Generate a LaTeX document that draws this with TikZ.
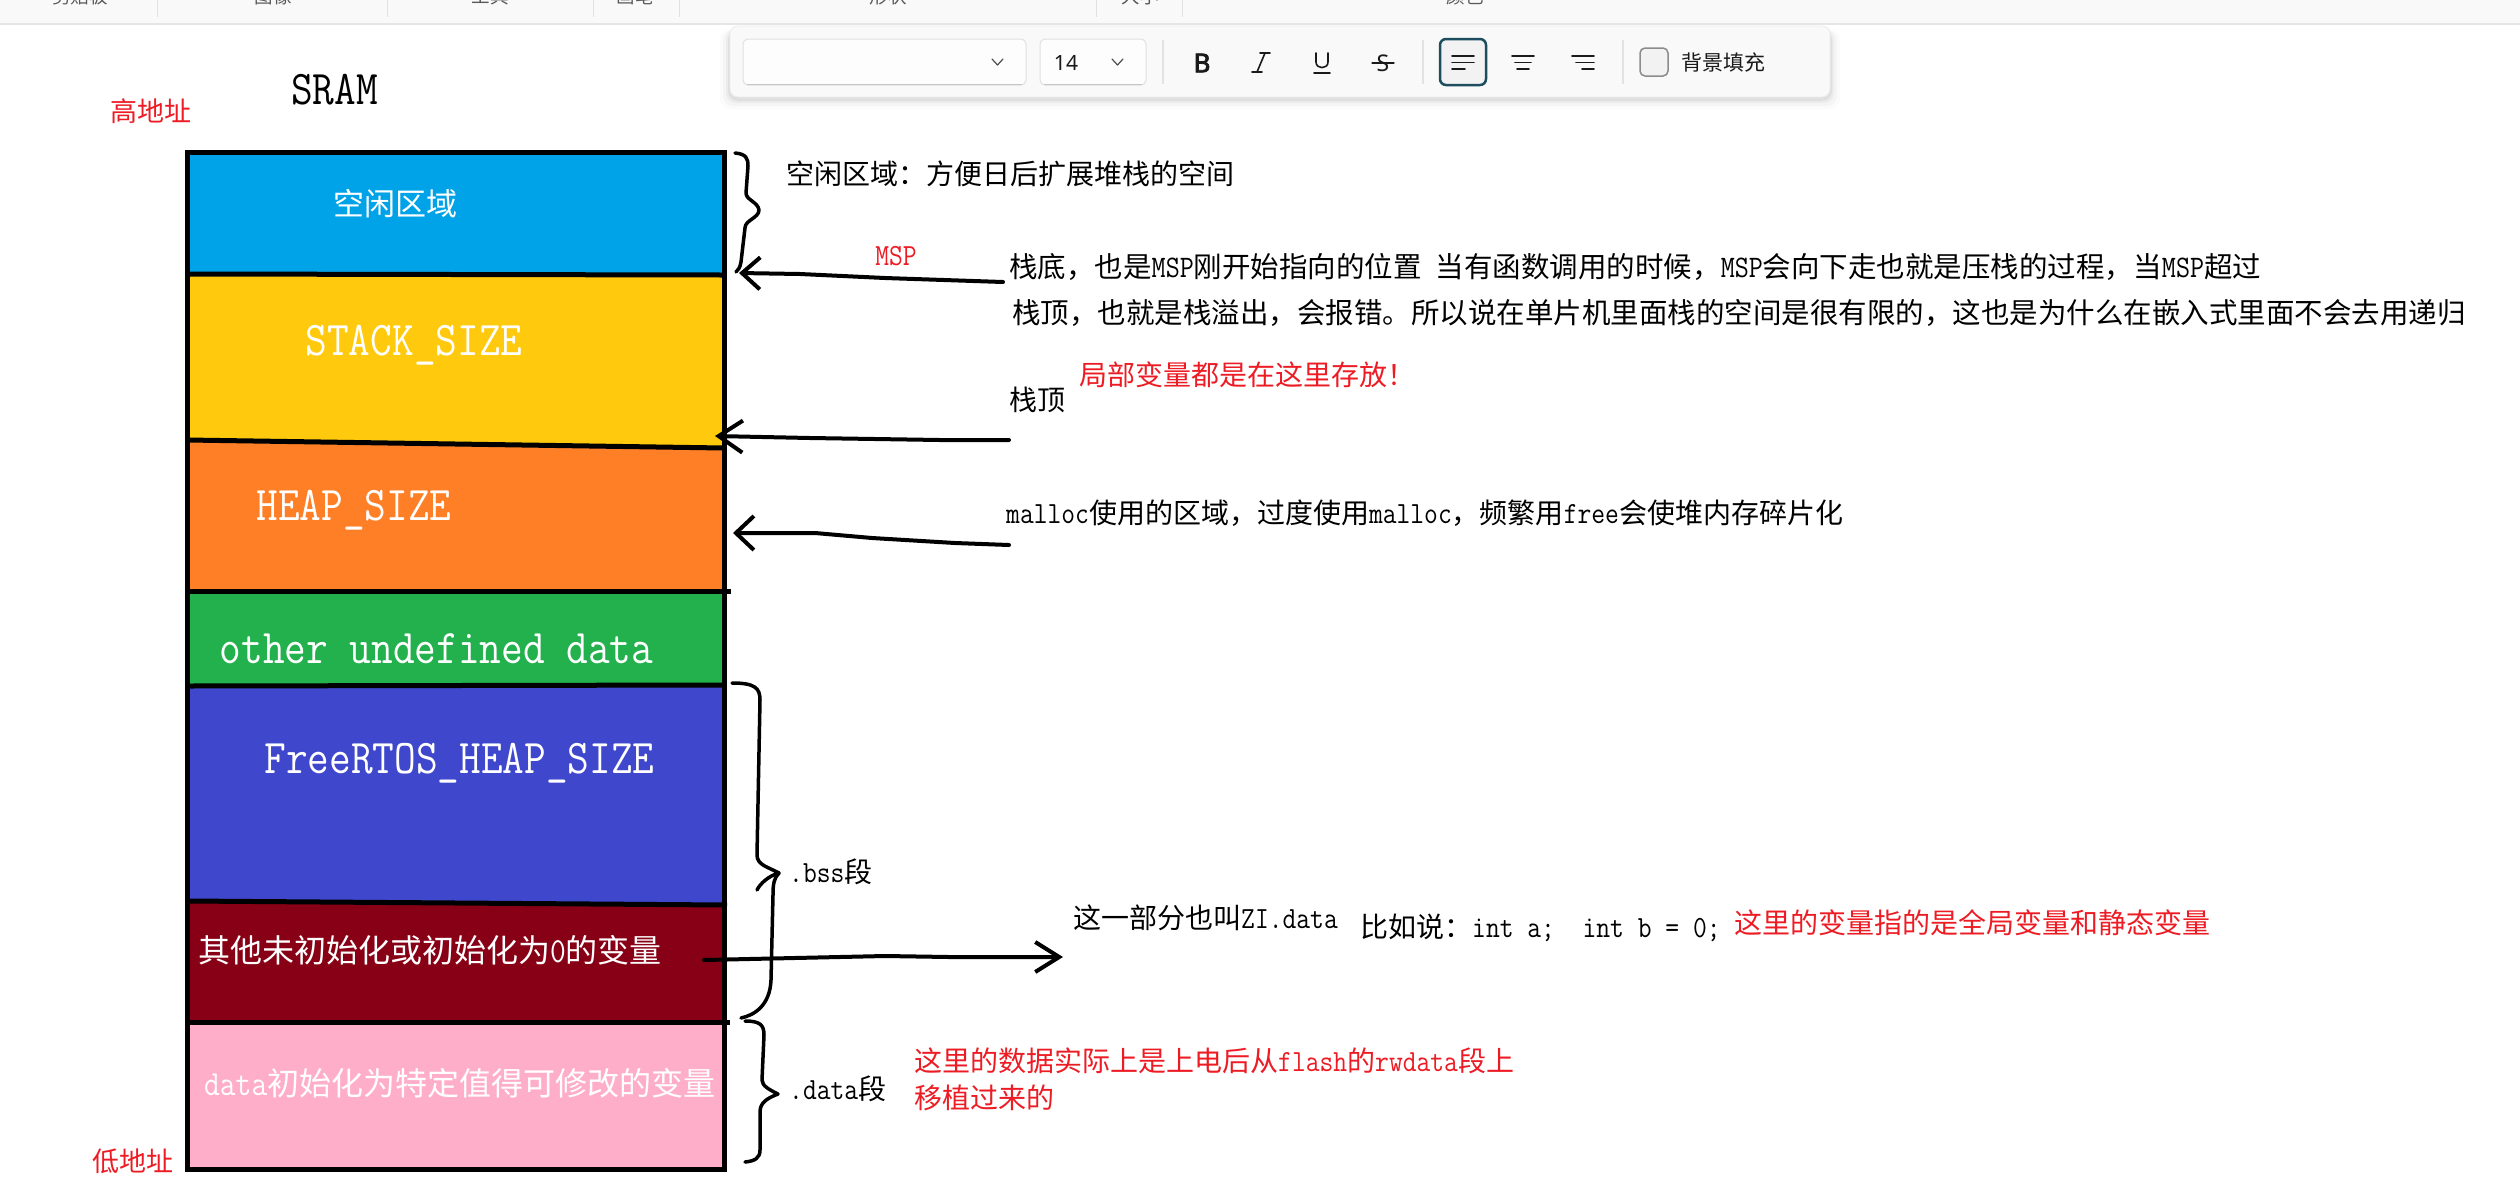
\documentclass[tikz,border=0pt]{standalone}
\usepackage{fontspec}
\setmainfont{Noto Sans CJK SC}
\newfontfamily\cj{Noto Sans CJK SC}
\newfontfamily\la[Scale=1.1,FakeStretch=0.87]{Latin Modern Mono}
\newfontfamily\ui{Noto Sans}
\newfontfamily\uibold[FakeBold=3]{Noto Sans}
\usetikzlibrary{arrows.meta}
\definecolor{pblue}{HTML}{00A2E8}
\definecolor{pyellow}{HTML}{FFC90E}
\definecolor{porange}{HTML}{FF7F27}
\definecolor{pgreen}{HTML}{22B14C}
\definecolor{pindigo}{HTML}{3F48CC}
\definecolor{pmaroon}{HTML}{880015}
\definecolor{ppink}{HTML}{FFAEC9}
\definecolor{pred}{HTML}{ED1C24}
\definecolor{barbg}{HTML}{F9F9F9}
\definecolor{barline}{HTML}{E6E6E6}
\definecolor{sepc}{HTML}{E2E2E2}
\definecolor{panelbg}{HTML}{F9F9F9}
\definecolor{boxbd}{HTML}{E0E0E0}
\definecolor{uitext}{HTML}{1A1A1A}
\definecolor{selbd}{HTML}{1D4E5F}
\newcommand\latn[1]{{\la #1}}
\begin{document}
\begin{tikzpicture}[x=1pt,y=-1pt,
  lab/.style={inner sep=0pt, anchor=west, font=\cj\fontsize{28}{34}\selectfont},
  lab285/.style={inner sep=0pt, anchor=west, font=\cj\fontsize{28.5}{34}\selectfont},
  latlab/.style={inner sep=0pt, anchor=base, text=white, font=\la\fontsize{44}{50}\selectfont},
  cjwhite/.style={inner sep=0pt, text=white},
  redt/.style={text=pred},
  blk/.style={line width=5pt, black},
  hand/.style={line width=4pt, line cap=round, line join=round},
  bracestroke/.style={line width=3.5pt, line cap=round, line join=round},
  toplab/.style={inner sep=0pt, anchor=base, text=black!65, font=\cj\fontsize{18.5}{22}\selectfont},
  icon/.style={line width=1.6pt, uitext, line cap=round},
  uibox/.style={draw=boxbd, fill=white!60!panelbg, line width=1pt, rounded corners=5pt},
  chev/.style={line width=1.2pt, black!70, line cap=round, line join=round}
]
\useasboundingbox (0,0) rectangle (2520,1179);
\fill[white] (0,0) rectangle (2520,1179);

% ---------------- application top bar ----------------
\fill[barbg] (0,0) rectangle (2520,23);
\draw[line width=2pt, barline] (0,24) -- (2520,24);
\foreach \x in {157,387,593,679,1096,1182} \draw[sepc, line width=1pt] (\x,0) -- (\x,17);
\node[toplab] (tl1) at (80,3) {剪贴板};
\node[toplab] (tl2) at (273,3) {图像};
\node[toplab] (tl3) at (490,3) {工具};
\node[toplab] (tl4) at (635,3) {画笔};
\node[toplab] (tl5) at (888,3) {形状};
\node[toplab] (tl6) at (1140,3) {大小};
\node[toplab] (tl7) at (1465,3) {颜色};

% ---------------- floating text toolbar ----------------
\foreach \i/\o in {10/0.015,7/0.025,4/0.035,2/0.05}
  \fill[black, opacity=\o, rounded corners=10pt] ({730-\i},30) rectangle ({1830+\i},{99+\i});
\draw[fill=panelbg, draw=black!8, line width=0.8pt, rounded corners=8pt] (730,26) rectangle (1830,97);
\draw[uibox] (743,39) rectangle (1026,85);
\draw[black!22, line width=1.5pt] (747,84.5) -- (1022,84.5);
\draw[chev] (992,59) -- (997.5,65) -- (1003,59);
\draw[uibox] (1040,39) rectangle (1146,85);
\draw[black!22, line width=1.5pt] (1044,84.5) -- (1142,84.5);
\node[inner sep=0pt, text=uitext, font=\ui\fontsize{21}{24}\selectfont] (fsize) at (1066,62.5) {14};
\draw[chev] (1112,59) -- (1117.5,65) -- (1123,59);
\draw[sepc, line width=1.2pt] (1163,40) -- (1163,84);
\node[inner sep=0pt, text=uitext, font=\uibold\fontsize{26}{30}\selectfont] (bbtn) at (1202,63) {B};
\draw[icon] (1265,53) -- (1257,72);
\draw[icon] (1260,53) -- (1270,53);
\draw[icon] (1252,72) -- (1262,72);
\draw[icon] (1316,53) -- (1316,62) .. controls (1316,69.5) and (1328,69.5) .. (1328,62) -- (1328,53);
\draw[icon] (1314,73) -- (1330,73);
\node[inner sep=0pt, text=uitext, font=\ui\fontsize{23}{26}\selectfont] (sbtn) at (1383,63) {S};
\draw[icon, line width=1.3pt] (1372,63) -- (1394,63);
\draw[sepc, line width=1.2pt] (1423,40) -- (1423,84);
\draw[draw=selbd, fill=black!5, line width=2.5pt, rounded corners=6pt] (1440,39) rectangle (1486,85);
\draw[icon] (1452,56) -- (1474,56);
\draw[icon] (1452,62.5) -- (1474,62.5);
\draw[icon] (1452,69) -- (1465,69);
\draw[icon] (1512,56) -- (1534,56);
\draw[icon] (1515,62.5) -- (1531,62.5);
\draw[icon] (1517,69) -- (1529,69);
\draw[icon] (1572,56) -- (1594,56);
\draw[icon] (1576,62.5) -- (1594,62.5);
\draw[icon] (1582,69) -- (1594,69);
\draw[sepc, line width=1.2pt] (1623,40) -- (1623,84);
\draw[draw=black!45, fill=black!5, line width=1.5pt, rounded corners=5pt] (1640,48) rectangle (1668,76);
\node[inner sep=0pt, anchor=west, text=uitext, font=\cj\fontsize{21}{24}\selectfont] (bgfill) at (1681,62) {背景填充};

% ---------------- SRAM blocks ----------------
\fill[pblue] (187,152) rectangle (724,274);
\fill[pyellow] (187,274) -- (724,274) -- (724,448) -- (187,440) -- cycle;
\fill[porange] (187,440) -- (724,448) -- (724,591) -- (187,591) -- cycle;
\fill[pgreen] (187,591) rectangle (724,686);
\fill[pindigo] (187,686) -- (724,686) -- (724,905) -- (187,901) -- cycle;
\fill[pmaroon] (187,901) -- (724,905) -- (724,1022) -- (187,1022) -- cycle;
\fill[ppink] (187,1022) rectangle (724,1169);
\draw[blk] (187,274) -- (724,275);
\draw[blk] (187,440) -- (724,448);
\draw[blk] (187,591) -- (731,591);
\draw[blk] (187,686) -- (724,685);
\draw[blk] (187,901) -- (727,905);
\draw[blk] (187,1022) -- (730,1022);
\draw[blk] (187.5,152.5) rectangle (724.5,1169);

% titles
\node[inner sep=0pt, anchor=base, font=\la\fontsize{44}{50}\selectfont] (sram) at (334.5,104) {SRAM};
\node[inner sep=0pt, anchor=west, redt, font=\cj\fontsize{27}{32}\selectfont] (hiaddr) at (110,111) {高地址};
\node[inner sep=0pt, anchor=west, redt, font=\cj\fontsize{27}{32}\selectfont] (loaddr) at (92,1161) {低地址};

% block labels
\node[cjwhite, font=\cj\fontsize{31}{36}\selectfont] (free) at (395,204) {空闲区域};
\node[latlab] (stack) at (414,355) {STACK\_SIZE};
\node[latlab] (heap) at (354,520) {HEAP\_SIZE};
\node[latlab] (other) at (436.5,663) {other undefined data};
\node[latlab] (rtos) at (459.5,773) {FreeRTOS\_HEAP\_SIZE};
\node[cjwhite, font=\cj\fontsize{32}{38}\selectfont] (bssvar) at (430,950) {其他未初始化或初始化为\latn{0}的变量};
\node[cjwhite, anchor=west, font=\cj\fontsize{32}{38}\selectfont] (datavar) at (204,1083) {\latn{data}初始化为特定值得可修改的变量};

% ---------------- braces ----------------
\draw[bracestroke] (735,153) .. controls (746,154) and (748,158) .. (748,166) -- (746,193)
  .. controls (746,200) and (758,202) .. (759,210) .. controls (759,218) and (745,220) .. (745,228)
  -- (741,262) .. controls (740,268) and (738,270) .. (736,272);
\draw[bracestroke] (732,683) .. controls (755,683) and (760,688) .. (760,700) -- (757,855)
  .. controls (757,865) and (768,867) .. (779,873) .. controls (768,876) and (760,884) .. (757,890);
\draw[bracestroke] (779,873) .. controls (774,878) and (773,884) .. (773,895) -- (771,980)
  .. controls (770,1005) and (755,1015) .. (741,1018);
\draw[bracestroke] (745,1021) .. controls (760,1021) and (764,1025) .. (764,1035) -- (762,1080)
  .. controls (762,1086) and (770,1090) .. (778,1094) .. controls (768,1098) and (760,1102) .. (760,1112)
  -- (760,1150) .. controls (760,1158) and (755,1161) .. (745,1162);

% ---------------- annotations ----------------
\node[lab] (freenote) at (786,174) {空闲区域：方便日后扩展堆栈的空间};
\node[inner sep=0pt, anchor=base, redt, font=\la\fontsize{28}{34}\selectfont] (msp) at (896,265) {MSP};
\node[lab285] (line1) at (1009,267) {栈底，也是\latn{MSP}刚开始指向的位置\hspace{14pt}当有函数调用的时候，\latn{MSP}会向下走也就是压栈的过程，当\latn{MSP}超过};
\node[lab285] (line2) at (1012,313) {栈顶，也就是栈溢出，会报错。所以说在单片机里面栈的空间是很有限的，这也是为什么在嵌入式里面不会去用递归};
\node[lab, redt] (local) at (1079,375) {局部变量都是在这里存放！};
\node[lab] (top) at (1009,400) {栈顶};
\node[lab] (malloc) at (1006,513) {\latn{malloc}使用的区域，过度使用\latn{malloc}，频繁用\latn{free}会使堆内存碎片化};
\node[lab] (bss) at (789,872) {\latn{.bss}段};
\node[lab] (zi) at (1073,918) {这一部分也叫\latn{ZI.data}};
\node[lab] (eg) at (1360,928) {比如说：\latn{int a;\ \ int b = 0;}};
\node[lab, redt] (globalnote) at (1734,923) {这里的变量指的是全局变量和静态变量};
\node[lab] (data) at (789,1089) {\latn{.data}段};
\node[lab, redt] (flash1) at (914,1061) {这里的数据实际上是上电后从\latn{flash}的\latn{rwdata}段上};
\node[lab, redt] (flash2) at (914,1098) {移植过来的};

% ---------------- arrows ----------------
\coordinate (mspS) at (1003,282);
\coordinate (mspE) at (739,273);
\coordinate (stS) at (1009,440);
\coordinate (stE) at (715,436);
\coordinate (hpS) at (1009,545);
\coordinate (hpE) at (733,533);
\coordinate (ziS) at (704,960);
\coordinate (ziE) at (1063,957);
\draw[hand, -{Straight Barb[length=18pt,width=32pt]}] (mspS) -- (885,278) -- (800,274) -- (mspE);
\draw[hand, -{Straight Barb[length=24pt,width=32pt]}] (stS) -- (940,440) -- (810,438) -- (stE);
\draw[hand, -{Straight Barb[length=18pt,width=34pt]}] (hpS) -- (955,543) -- (872,538) -- (815,533) -- (hpE);
\draw[hand, -{Straight Barb[length=24pt,width=30pt]}] (ziS) -- (885,956) -- (949,957) -- (ziE);
\end{tikzpicture}
\end{document}
